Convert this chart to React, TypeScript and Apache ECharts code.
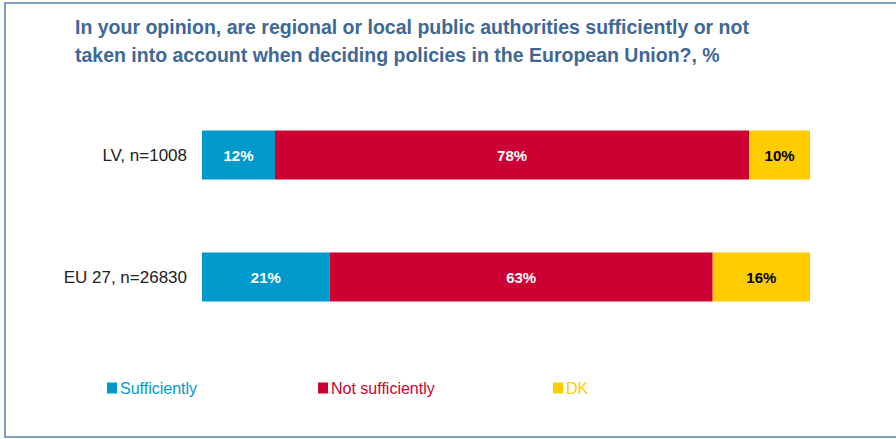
import React, { useEffect, useRef } from "react";
import * as echarts from "echarts";

const categories = ["LV, n=1008", "EU 27, n=26830"];
const sufficiently = [12, 21];
const notSufficiently = [78, 63];
const dk = [10, 16];
const seriesNames = ["Sufficiently", "Not sufficiently", "DK"];
const colors = ["#0099CC", "#CC0033", "#FFCC00"];
const titleText =
  "In your opinion, are regional or local public authorities sufficiently or not\ntaken into account when deciding policies in the European Union?, %";

export default function App() {
  const ref = useRef<HTMLDivElement>(null);
  useEffect(() => {
    document.body.style.margin = "0";
    const chart = echarts.init(ref.current!, null, { renderer: "svg" });
    const values = [sufficiently, notSufficiently, dk];
    const labelColors = ["#ffffff", "#ffffff", "#000000"];
    const legendLefts = [102, 313, 548];
    chart.setOption({
      animation: false,
      backgroundColor: "#ffffff",
      title: {
        text: titleText,
        left: 70,
        top: 8,
        textStyle: {
          fontFamily: "Liberation Sans, Arial, sans-serif",
          fontSize: 19.5,
          fontWeight: "bold",
          color: "#3F6797",
          lineHeight: 28,
        },
      },
      legend: seriesNames.map((n, i) => ({
        data: [{ name: n, textStyle: { color: colors[i] } }],
        left: legendLefts[i],
        top: 375,
        icon: "rect",
        itemWidth: 10,
        itemHeight: 11,
        itemGap: 2,
        selectedMode: false,
        textStyle: {
          fontFamily: "Liberation Sans, Arial, sans-serif",
          fontSize: 16,
          padding: [0, 0, 0, -2],
        },
      })),
      grid: { left: 202, top: 94, width: 608, height: 244, containLabel: false },
      xAxis: {
        type: "value",
        min: 0,
        max: 100,
        show: false,
      },
      yAxis: {
        type: "category",
        data: categories,
        inverse: true,
        axisLine: { show: false },
        axisTick: { show: false },
        axisLabel: {
          margin: 15,
          color: "#222222",
          fontSize: 17,
          fontFamily: "Liberation Sans, Arial, sans-serif",
        },
      },
      graphic: [
        {
          type: "rect",
          shape: { x: 5, y: 3, width: 900, height: 434 },
          style: { fill: "none", stroke: "#5A7EAD", lineWidth: 1.5 },
          silent: true,
        },
      ],
      series: seriesNames.map((n, i) => ({
        name: n,
        type: "bar",
        stack: "total",
        data: values[i],
        barWidth: 49,
        itemStyle: { color: colors[i] },
        label: {
          show: true,
          position: "inside",
          formatter: "{c}%",
          color: labelColors[i],
          fontWeight: "bold",
          fontSize: 15,
          fontFamily: "Liberation Sans, Arial, sans-serif",
        },
      })),
    });
    return () => chart.dispose();
  }, []);
  return <div ref={ref} style={{ width: 896, height: 439 }} />;
}
